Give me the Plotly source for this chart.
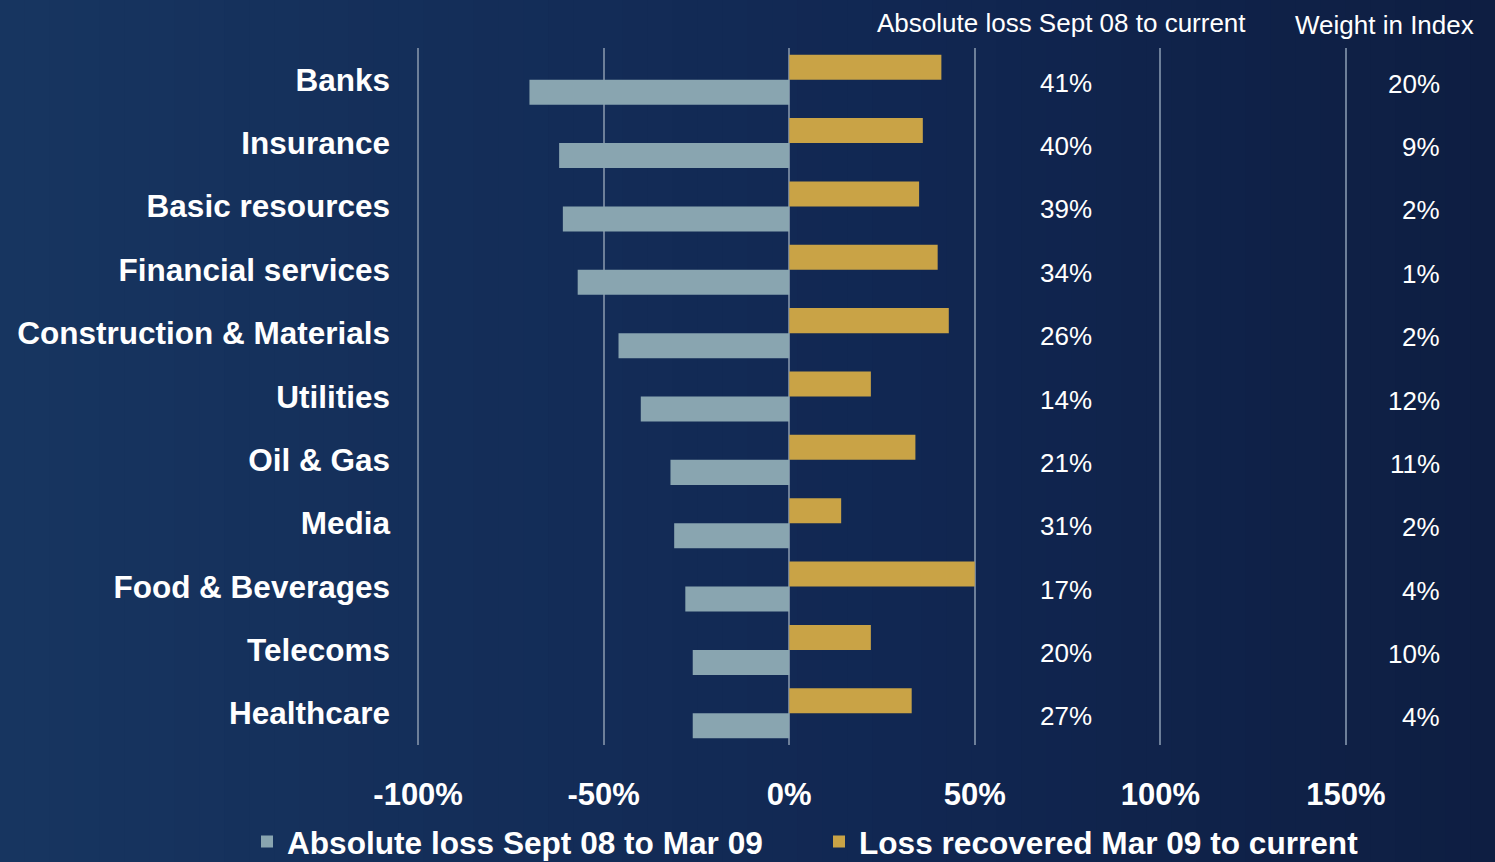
import plotly.graph_objects as go

categories = ["Banks", "Insurance", "Basic resources", "Financial services",
              "Construction & Materials", "Utilities", "Oil & Gas", "Media",
              "Food & Beverages", "Telecoms", "Healthcare"]
loss_sep08_mar09 = [-70, -62, -61, -57, -46, -40, -32, -31, -28, -26, -26]
recovered_mar09_now = [41, 36, 35, 40, 43, 22, 34, 14, 50, 22, 33]
abs_loss_current = ["41%", "40%", "39%", "34%", "26%", "14%", "21%", "31%", "17%", "20%", "27%"]
weight_in_index = ["20%", "9%", "2%", "1%", "2%", "12%", "11%", "2%", "4%", "10%", "4%"]
x_ticks = [-100, -50, 0, 50, 100, 150]
x_tick_labels = ["-100%", "-50%", "0%", "50%", "100%", "150%"]

W, H = 1495, 862
ML, MR, MT, MB = 417, 148, 48, 117
PW = W - ML - MR
PH = H - MT - MB

FONT = "Liberation Sans, Arial, sans-serif"
GRID = "#6d7f99"

fig = go.Figure()
fig.add_trace(go.Bar(
    y=categories, x=recovered_mar09_now, orientation="h",
    name="Loss recovered Mar 09 to current", marker=dict(color="#c9a346", line=dict(width=0)),
    legendrank=2, hoverinfo="x+y"))
fig.add_trace(go.Bar(
    y=categories, x=loss_sep08_mar09, orientation="h",
    name="Absolute loss Sept 08 to Mar 09", marker=dict(color="#89a5b0", line=dict(width=0)),
    legendrank=1, hoverinfo="x+y"))

# background gradient (style only)
def lerp(c1, c2, t):
    return "#%02x%02x%02x" % tuple(int(round(a + (b - a) * t)) for a, b in zip(c1, c2))

c_left = (0x17, 0x35, 0x60)
c_mid = (0x11, 0x27, 0x52)
c_right = (0x0e, 0x1e, 0x42)
N = 60
shapes = []
for i in range(N):
    t = i / (N - 1)
    col = lerp(c_left, c_mid, t / 0.6) if t < 0.6 else lerp(c_mid, c_right, (t - 0.6) / 0.4)
    px0 = W * i / N
    px1 = W * (i + 1) / N + 1
    shapes.append(dict(type="rect", xref="paper", yref="paper", layer="below",
                       x0=(px0 - ML) / PW, x1=(px1 - ML) / PW,
                       y0=-1, y1=2,
                       fillcolor=col, line=dict(width=0)))

annotations = []
for cat, a, w in zip(categories, abs_loss_current, weight_in_index):
    annotations.append(dict(x=(1094 - ML) / PW, y=cat, xref="paper", yref="y", text=a, showarrow=False,
                            xanchor="right", yanchor="middle", yshift=-3,
                            font=dict(family=FONT, size=26, color="white")))
    annotations.append(dict(x=(1442 - ML) / PW, y=cat, xref="paper", yref="y", text=w, showarrow=False,
                            xanchor="right", yanchor="middle", yshift=-4,
                            font=dict(family=FONT, size=26, color="white")))
annotations.append(dict(x=(1061.5 - ML) / PW, y=1 + (48 - 23) / PH, xref="paper", yref="paper",
                        text="Absolute loss Sept 08 to current", showarrow=False,
                        xanchor="center", yanchor="middle",
                        font=dict(family=FONT, size=26, color="white")))
annotations.append(dict(x=(1384 - ML) / PW, y=1 + (48 - 25) / PH, xref="paper", yref="paper",
                        text="Weight in Index", showarrow=False,
                        xanchor="center", yanchor="middle",
                        font=dict(family=FONT, size=26, color="white")))

fig.update_layout(
    width=W, height=H,
    margin=dict(l=ML, r=MR, t=MT, b=MB, pad=0, autoexpand=False),
    paper_bgcolor="#132b57", plot_bgcolor="rgba(0,0,0,0)",
    barmode="group", bargap=0.21, bargroupgap=0,
    shapes=shapes, annotations=annotations,
    showlegend=True,
    legend=dict(orientation="h", xref="paper", yref="paper",
                x=(247 - ML) / PW, xanchor="left",
                y=(745 - 842) / PH, yanchor="middle",
                font=dict(family=FONT, size=31.6, color="white", weight="bold"),
                bgcolor="rgba(0,0,0,0)", traceorder="normal",
                entrywidthmode="pixels", entrywidth=527),
    xaxis=dict(range=[-100.3, 150.3], tickvals=x_ticks, ticktext=x_tick_labels,
               showgrid=True, gridcolor=GRID, gridwidth=1.5,
               zeroline=True, zerolinecolor=GRID, zerolinewidth=1.5,
               showline=False, ticks="", ticklabelstandoff=28,
               tickfont=dict(family=FONT, size=31, color="white", weight="bold")),
    yaxis=dict(categoryorder="array", categoryarray=categories, autorange="reversed",
               showgrid=False, zeroline=False, showline=False, ticks="",
               ticklabelstandoff=26,
               tickfont=dict(family=FONT, size=31.5, color="white", weight="bold")),
    font=dict(family=FONT, color="white"),
)

fig.write_html("out.html", config={"displayModeBar": False},
               post_script="document.body.style.margin='0';")
